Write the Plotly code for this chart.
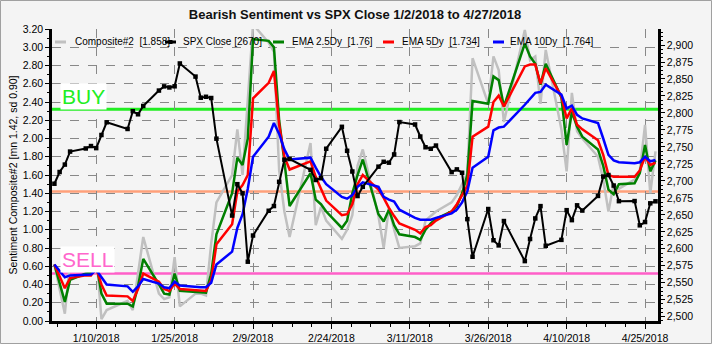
import plotly.graph_objects as go

# ---------------- data ----------------
dates = [
    "2018-01-02","2018-01-03","2018-01-04","2018-01-05","2018-01-08","2018-01-09","2018-01-10","2018-01-11","2018-01-12",
    "2018-01-16","2018-01-17","2018-01-18","2018-01-19","2018-01-22","2018-01-23","2018-01-24","2018-01-25","2018-01-26",
    "2018-01-29","2018-01-30","2018-01-31",
    "2018-02-01","2018-02-02","2018-02-05","2018-02-06","2018-02-07","2018-02-08","2018-02-09","2018-02-12","2018-02-13",
    "2018-02-14","2018-02-15","2018-02-16","2018-02-20","2018-02-21","2018-02-22","2018-02-23","2018-02-26","2018-02-27",
    "2018-02-28",
    "2018-03-01","2018-03-02","2018-03-05","2018-03-06","2018-03-07","2018-03-08","2018-03-09","2018-03-12","2018-03-13",
    "2018-03-14","2018-03-15","2018-03-16","2018-03-19","2018-03-20","2018-03-21","2018-03-22","2018-03-23","2018-03-26",
    "2018-03-27","2018-03-28","2018-03-29",
    "2018-04-02","2018-04-03","2018-04-04","2018-04-05","2018-04-06","2018-04-09","2018-04-10","2018-04-11","2018-04-12",
    "2018-04-13","2018-04-16","2018-04-17","2018-04-18","2018-04-19","2018-04-20","2018-04-23","2018-04-24","2018-04-25",
    "2018-04-26","2018-04-27",
]

spx_close = [
    2695.81, 2713.06, 2723.99, 2743.15, 2747.71, 2751.29, 2748.23, 2767.56, 2786.24,
    2776.42, 2802.56, 2798.03, 2810.30, 2832.97, 2839.13, 2837.54, 2839.25, 2872.87,
    2853.53, 2822.43, 2823.81,
    2821.98, 2762.13, 2648.94, 2695.14, 2681.66, 2581.00, 2619.55, 2656.00, 2662.94,
    2698.63, 2731.20, 2732.22, 2716.26, 2701.33, 2703.96, 2747.30, 2779.60, 2744.28,
    2713.83,
    2677.67, 2691.25, 2720.94, 2728.12, 2726.80, 2738.97, 2786.57, 2783.02, 2765.31,
    2749.48, 2747.33, 2752.01, 2712.92, 2716.94, 2711.93, 2643.69, 2588.26, 2658.55,
    2612.62, 2605.00, 2640.87,
    2581.88, 2614.45, 2644.69, 2662.84, 2604.47, 2613.16, 2656.87, 2642.19, 2663.99,
    2656.30, 2677.84, 2706.39, 2708.64, 2693.13, 2670.14, 2670.29, 2634.56, 2639.40,
    2666.94, 2669.91,
]

composite = [
    0.62, 0.35, 0.08, 0.66, 0.58, 0.55, 0.75, 0.02, 0.12,
    0.22, 0.12, 0.50, 0.92, 0.30, 0.24, 0.26, 0.70, 0.16,
    0.30, 0.30, 0.28,
    0.85, 1.30, 1.60, 2.10, 1.60, 2.45, 3.25, 3.05, 2.95,
    1.65, 1.20, 0.92, 1.95, 1.05, 1.25, 1.10, 0.90, 1.00,
    1.16,
    1.70, 1.88, 1.15, 0.80, 1.24, 1.00, 0.80, 0.82, 0.85,
    1.10, 1.15, 1.20, 1.30, 1.38, 1.50, 1.62, 2.88, 2.38,
    2.90, 2.75, 2.18,
    3.19, 2.86, 2.90, 2.38, 2.97, 2.10, 1.64, 2.50, 2.08,
    2.00, 1.80, 1.55, 1.20, 1.50, 1.45, 1.55, 1.65, 2.15,
    1.40, 1.858,
]

ema_2_5 = [
    0.62, 0.42, 0.21, 0.45, 0.52, 0.53, 0.64, 0.30, 0.19,
    0.19, 0.16, 0.38, 0.68, 0.40, 0.30, 0.29, 0.52, 0.33,
    0.32, 0.32, 0.31,
    0.52, 0.95, 1.40, 1.79, 1.71, 2.00, 3.09, 3.07, 3.00,
    2.20, 1.75, 1.26, 1.62, 1.33, 1.28, 1.20, 1.02, 1.10,
    1.40,
    1.60, 1.77, 1.17, 1.09, 1.22, 1.05, 0.95, 0.92, 0.89,
    1.00, 1.07, 1.12, 1.20, 1.26, 1.40, 1.60, 2.41, 2.38,
    2.68, 2.64, 2.35,
    3.04, 2.90, 2.82, 2.59, 2.82, 2.45, 1.93, 2.29, 2.13,
    2.02, 1.88, 1.70, 1.44, 1.39, 1.50, 1.51, 1.62, 1.93,
    1.64, 1.76,
]

ema_5 = [
    0.62, 0.48, 0.36, 0.47, 0.50, 0.50, 0.58, 0.40, 0.28,
    0.27, 0.22, 0.35, 0.52, 0.43, 0.35, 0.33, 0.41, 0.35,
    0.34, 0.34, 0.33,
    0.45, 0.84, 1.06, 1.42, 1.49, 1.60, 2.44, 2.61, 2.74,
    2.15, 1.80, 1.66, 1.75, 1.58, 1.45, 1.32, 1.16, 1.17,
    1.28,
    1.50, 1.60, 1.44, 1.35, 1.24, 1.15, 1.07, 1.00, 0.96,
    1.03, 1.05, 1.10, 1.20, 1.28, 1.38, 1.48, 2.02, 2.13,
    2.40, 2.47, 2.35,
    2.79, 2.81, 2.81, 2.60, 2.77, 2.46, 2.22, 2.33, 2.15,
    2.10, 1.98, 1.82, 1.60, 1.58, 1.58, 1.58, 1.65, 1.80,
    1.71, 1.734,
]

ema_10 = [
    0.62, 0.55, 0.48, 0.50, 0.51, 0.51, 0.56, 0.48, 0.40,
    0.38, 0.32, 0.38, 0.46, 0.41, 0.37, 0.36, 0.43, 0.39,
    0.37, 0.37, 0.37,
    0.42, 0.62, 0.76, 1.02, 1.17, 1.45, 1.80, 2.02, 2.17,
    2.05, 1.88, 1.77, 1.79, 1.68, 1.58, 1.50, 1.36, 1.34,
    1.38,
    1.47, 1.52, 1.47, 1.36, 1.33, 1.31, 1.22, 1.13, 1.11,
    1.11, 1.11, 1.13, 1.18, 1.22, 1.30, 1.42, 1.68, 1.80,
    2.09, 2.12, 2.13,
    2.37, 2.44, 2.50, 2.51, 2.59, 2.48, 2.33, 2.36, 2.26,
    2.22, 2.17, 2.00, 1.82, 1.76, 1.74, 1.73, 1.74, 1.80,
    1.75, 1.764,
]

sentiment_mean = 1.42
sentiment_sd = 0.90
buy_level = sentiment_mean + sentiment_sd
sell_level = sentiment_mean - sentiment_sd

x_tick_vals = ["2018-01-10", "2018-01-25", "2018-02-09", "2018-02-24",
               "2018-03-11", "2018-03-26", "2018-04-10", "2018-04-25"]
x_tick_text = ["1/10/2018", "1/25/2018", "2/9/2018", "2/24/2018",
               "3/11/2018", "3/26/2018", "4/10/2018", "4/25/2018"]
left_tick_vals = [round(i * 0.2, 2) for i in range(17)]
left_tick_text = [f"{v:.2f}" for v in left_tick_vals]
right_tick_vals = list(range(2500, 2901, 25))
right_tick_text = [f"{v:,}" for v in right_tick_vals]

# ---------------- figure ----------------
FONT = "Liberation Sans, Arial, sans-serif"
fig = go.Figure()

fig.add_trace(go.Scatter(x=dates, y=composite, mode="lines", name="Composite#2",
                         line=dict(color="#c0c0c0", width=2.5)))
fig.add_trace(go.Scatter(x=dates, y=ema_2_5, mode="lines", name="EMA 2.5Dy",
                         line=dict(color="#008000", width=2.5)))
fig.add_trace(go.Scatter(x=dates, y=ema_5, mode="lines", name="EMA 5Dy",
                         line=dict(color="#ff0000", width=2.5)))
fig.add_trace(go.Scatter(x=dates, y=ema_10, mode="lines", name="EMA 10Dy",
                         line=dict(color="#0000ff", width=2.5)))
fig.add_trace(go.Scatter(x=dates, y=spx_close, mode="lines+markers", name="SPX Close",
                         yaxis="y2", line=dict(color="black", width=2),
                         marker=dict(symbol="square", size=4.5, color="black")))

# level lines
for lvl, col, w in [(buy_level, "#22ee22", 3), (sentiment_mean, "#ffa07a", 2.5),
                    (sell_level, "#ff5fc8", 2.5)]:
    fig.add_shape(type="line", xref="paper", x0=0, x1=1, yref="y", y0=lvl, y1=lvl,
                  line=dict(color=col, width=w), layer="between")

W, H, L, T = 606.0, 292.0, 52.0, 29.0
def px(xp):
    return (xp - L) / W
def py(yp):
    return (T + H - yp) / H

# BUY / SELL labels
fig.add_annotation(x=px(60), y=py(96), xref="paper", yref="paper", text="BUY",
                   showarrow=False, xanchor="left", yanchor="middle",
                   font=dict(family=FONT, size=21, color="#22ee22"),
                   bgcolor="white", borderpad=1)
fig.add_annotation(x=px(60), y=py(259), xref="paper", yref="paper", text="SELL",
                   showarrow=False, xanchor="left", yanchor="middle",
                   font=dict(family=FONT, size=21, color="#ff66cc"),
                   bgcolor="white", borderpad=1)

# manual legend
legend_items = [
    (f"Composite#2&nbsp; [{composite[-1]:.3f}]", "#c0c0c0", 55, 73, False),
    (f"SPX Close [{spx_close[-1]:.0f}]", "black", 165, 181, True),
    (f"EMA 2.5Dy&nbsp; [{ema_2_5[-1]:.2f}]", "#008000", 273, 290, False),
    (f"EMA 5Dy&nbsp; [{ema_5[-1]:.3f}]", "#ff0000", 383, 400, False),
    (f"EMA 10Dy&nbsp; [{ema_10[-1]:.3f}]", "#0000ff", 493, 508, False),
]
ly = py(42)
for txt, col, sx, tx, marker in legend_items:
    fig.add_shape(type="line", xref="paper", yref="paper", x0=px(sx), x1=px(sx + 11),
                  y0=ly, y1=ly, line=dict(color=col, width=3))
    if marker:
        fig.add_shape(type="rect", xref="paper", yref="paper", x0=px(sx + 3.5), x1=px(sx + 7.5),
                      y0=py(44), y1=py(40), line=dict(color="black", width=0), fillcolor="black")
    fig.add_annotation(x=px(tx), y=ly, xref="paper", yref="paper", text=txt, showarrow=False,
                       xanchor="left", yanchor="middle",
                       font=dict(family=FONT, size=10, color="black"))

# outer frame
fig.add_shape(type="rect", xref="paper", yref="paper", x0=px(0.5), x1=px(711.5),
              y0=py(343.5), y1=py(0.5), line=dict(color="#a0a0a0", width=1), layer="below")

grid_kw = dict(showgrid=True, gridcolor="#888888", gridwidth=1, griddash="dash")

fig.update_layout(
    width=712, height=344,
    margin=dict(l=52, r=54, t=29, b=23, pad=0, autoexpand=False),
    paper_bgcolor="#f4f4f4", plot_bgcolor="#f4f4f4",
    font=dict(family=FONT, size=10.5, color="black"),
    showlegend=False,
    title=dict(text="<b>Bearish Sentiment vs SPX Close 1/2/2018 to 4/27/2018</b>",
               x=0.5, xref="paper", xanchor="center", y=1 - 14 / 344, yref="container",
               yanchor="middle", font=dict(family=FONT, size=13, color="#111111")),
    xaxis=dict(type="date", range=["2018-01-01 13:00", "2018-04-27 11:30"], automargin=False,
               tickmode="array", tickvals=x_tick_vals, ticktext=x_tick_text,
               ticks="outside", ticklen=5, tickcolor="black", tickwidth=1,
               tickfont=dict(size=10.5), ticklabelstandoff=1,
               showline=True, linecolor="black", linewidth=2.5, zeroline=False,
               minor=dict(tickmode="linear", tick0="2018-01-10", dtick=3.75 * 86400000,
                          ticks="outside", ticklen=3, tickcolor="black", showgrid=False),
               **grid_kw),
    yaxis=dict(range=[0, 3.2], automargin=False, tickmode="array", tickvals=left_tick_vals,
               ticktext=left_tick_text,
               ticks="outside", ticklen=4, tickcolor="black",
               showline=True, linecolor="black", linewidth=2.5, zeroline=False,
               title=dict(text="Sentiment Composite#2 [mn 1.42, sd 0.90]", standoff=4,
                          font=dict(size=10.5)),
               minor=dict(tickmode="linear", tick0=0, dtick=0.1, ticks="outside",
                          ticklen=2, tickcolor="black", showgrid=False),
               **grid_kw),
    yaxis2=dict(overlaying="y", side="right", range=[2493.7, 2923.6], automargin=False,
                tickmode="array", tickvals=right_tick_vals, ticktext=right_tick_text,
                ticks="outside", ticklen=4, tickcolor="black",
                showline=True, linecolor="black", linewidth=2.5, zeroline=False, showgrid=False,
                minor=dict(tickmode="linear", tick0=2500, dtick=6.25, ticks="outside",
                           ticklen=2, tickcolor="black", showgrid=False)),
)

fig.write_html("out.html")
